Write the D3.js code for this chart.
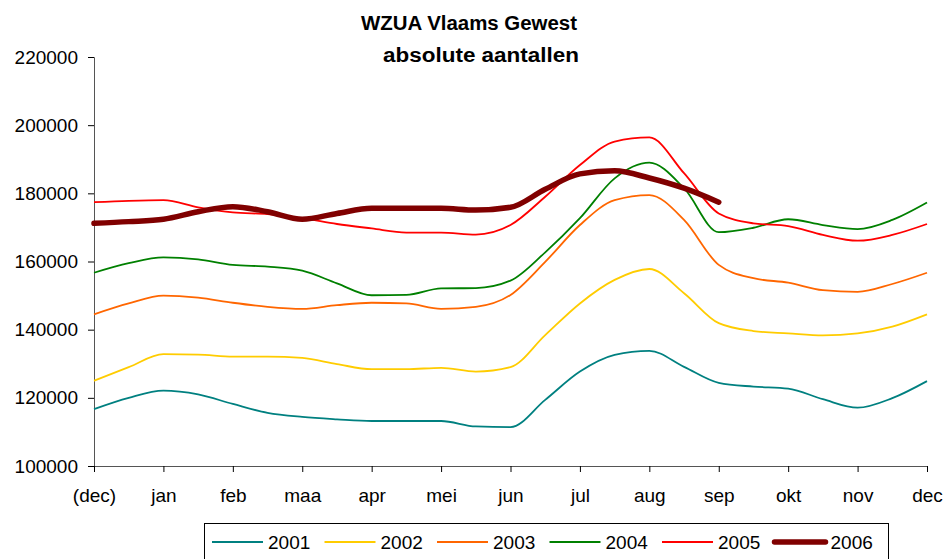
<!DOCTYPE html>
<html>
<head>
<meta charset="utf-8">
<script src="https://cdnjs.cloudflare.com/ajax/libs/d3/7.8.5/d3.min.js"></script>
<style>
    body { margin: 0; background: #fff; }
    svg { font-family: "Liberation Sans", Arial, sans-serif; }
</style>
</head>
<body>
<svg id="chart" width="944" height="559"></svg>
<script>
// month labels on the x axis
var months = ["(dec)", "jan", "feb", "maa", "apr", "mei", "jun", "jul", "aug", "sep", "okt", "nov", "dec"];
var yTicks = [100000, 120000, 140000, 160000, 180000, 200000, 220000];
var years = ["2001", "2002", "2003", "2004", "2005", "2006"];
var colors = ["#008080", "#ffcc00", "#ff6600", "#008000", "#ff0000", "#800000"];

// values read every half month, from (dec) to dec
var v2001 = [116700, 120000, 122100, 121000, 118200, 115600, 114400, 113700, 113200, 113200, 113200, 111600, 111400,
             119400, 127700, 132600, 133800, 129100, 124400, 123300, 122700, 119600, 117100, 119900, 124900];
var v2002 = [125000, 129000, 132800, 132700, 132100, 132100, 131700, 129900, 128400, 128400, 128800, 127700, 129000,
             138400, 147700, 154600, 157800, 150700, 141900, 139600, 138900, 138300, 138900, 140900, 144500];
var v2003 = [144500, 147700, 150000, 149400, 147900, 146700, 146100, 147200, 147900, 147700, 146100, 146700, 150200,
             159900, 170700, 178000, 179500, 172200, 159000, 155100, 153800, 151600, 151100, 153400, 156700];
var v2004 = [156700, 159500, 161200, 160600, 159000, 158500, 157300, 153600, 150100, 150200, 152100, 152200, 154400,
             162700, 172700, 184400, 189000, 181500, 168600, 169900, 172400, 170700, 169500, 172200, 177300];
var v2005 = [177400, 177800, 178000, 175900, 174400, 173900, 172700, 171000, 169700, 168500, 168500, 167900, 170700,
             179000, 188300, 195200, 196400, 185900, 174100, 171200, 170400, 167800, 166100, 167800, 171000];
var v2006 = [171200, 171700, 172400, 174600, 176100, 174600, 172400, 174100, 175600, 175600, 175600, 175100, 175900,
             181200, 185700, 186600, 184500, 181500, 177400];
var series = [v2001, v2002, v2003, v2004, v2005, v2006];

var svg = d3.select("#chart");

var x = d3.scaleLinear().domain([0, 12]).range([94, 927]);
var y = d3.scaleLinear().domain([100000, 220000]).range([466, 57]);

// title
svg.append("text")
    .attr("x", 469).attr("y", 30)
    .attr("text-anchor", "middle")
    .attr("font-size", 20).attr("font-weight", "bold")
    .attr("textLength", 216).attr("lengthAdjust", "spacingAndGlyphs")
    .text("WZUA Vlaams Gewest");
svg.append("text")
    .attr("x", 481).attr("y", 62)
    .attr("text-anchor", "middle")
    .attr("font-size", 20).attr("font-weight", "bold")
    .attr("textLength", 196).attr("lengthAdjust", "spacingAndGlyphs")
    .text("absolute aantallen");

// y axis
var yAxis = d3.axisLeft(y).tickValues(yTicks).tickSize(6).tickPadding(10).tickFormat(d3.format("d"));
var gy = svg.append("g").attr("transform", "translate(94,0)").call(yAxis);
gy.selectAll("text").attr("font-size", 19).attr("fill", "#000").attr("font-family", "Liberation Sans, Arial");
gy.select(".domain").attr("stroke", "#555");
gy.selectAll(".tick line").attr("stroke", "#000");

// x axis
var xAxis = d3.axisBottom(x).tickValues(d3.range(13)).tickSize(6).tickPadding(17)
    .tickFormat(function (d) { return months[d]; });
var gx = svg.append("g").attr("transform", "translate(0,466)").call(xAxis);
gx.selectAll("text").attr("font-size", 19).attr("fill", "#000").attr("font-family", "Liberation Sans, Arial");
gx.select(".domain").attr("stroke", "#555");
gx.selectAll(".tick line").attr("stroke", "#000");

var line = d3.line()
    .x(function (d, i) { return x(i * 0.5); })
    .y(function (d) { return y(d); })
    .curve(d3.curveMonotoneX);

series.forEach(function (s, k) {
    svg.append("path")
        .datum(s)
        .attr("d", line)
        .attr("fill", "none")
        .attr("stroke", colors[k])
        .attr("stroke-width", k === 5 ? 5.5 : 1.8)
        .attr("stroke-linecap", k === 5 ? "round" : "butt")
        .attr("stroke-linejoin", "round");
});

// legend
var legend = svg.append("g");
legend.append("rect")
    .attr("x", 204.5).attr("y", 523.5)
    .attr("width", 684).attr("height", 45)
    .attr("fill", "#fff").attr("stroke", "#000").attr("stroke-width", 1);

years.forEach(function (yr, k) {
    var lx = 212 + k * 112.5;
    legend.append("line")
        .attr("x1", lx).attr("x2", lx + 51)
        .attr("y1", 542).attr("y2", 542)
        .attr("stroke", colors[k])
        .attr("stroke-width", k === 5 ? 5.5 : 1.8)
        .attr("stroke-linecap", k === 5 ? "round" : "butt");
    legend.append("text")
        .attr("x", lx + 56).attr("y", 549)
        .attr("font-size", 19)
        .text(yr);
});
</script>
</body>
</html>
